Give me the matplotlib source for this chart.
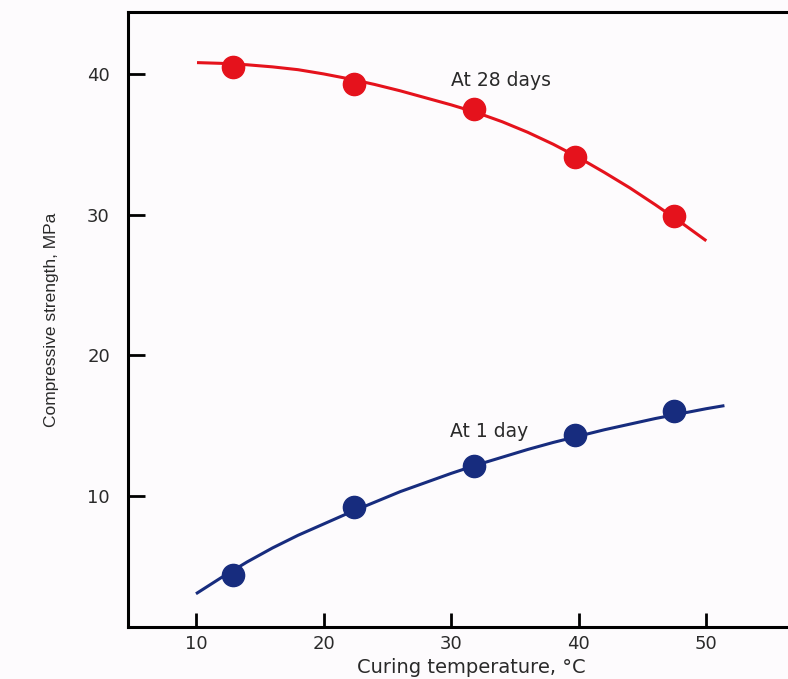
import matplotlib.pyplot as plt

# marker data
temp_pts = [12.9, 22.4, 31.8, 39.7, 47.5]
day28_pts = [40.5, 39.3, 37.5, 34.1, 29.9]
day1_pts = [4.4, 9.2, 12.1, 14.3, 16.0]

# trend curves
curve28_x = [10.2, 12, 14, 16, 18, 20, 22, 24, 26, 28, 30, 32, 34, 36, 38, 40, 42, 44, 46, 48, 49.9]
curve28_y = [40.8, 40.75, 40.65, 40.5, 40.3, 40.0, 39.65, 39.25, 38.8, 38.3, 37.8, 37.25,
             36.6, 35.85, 35.0, 34.05, 33.0, 31.9, 30.7, 29.45, 28.2]
curve1_x = [10.1, 12, 14, 16, 18, 20, 22, 24, 26, 28, 30, 32, 34, 36, 38, 40, 42, 44, 46, 48, 50, 51.3]
curve1_y = [3.1, 4.2, 5.3, 6.3, 7.2, 8.0, 8.8, 9.55, 10.3, 10.95, 11.6, 12.2, 12.75, 13.3,
            13.8, 14.25, 14.7, 15.1, 15.5, 15.85, 16.2, 16.4]

red = '#e5121c'
blue = '#172c7e'
txt = '#2a2a2a'

plt.rcParams['font.family'] = ['DejaVu Sans']

fig = plt.figure(figsize=(7.88, 6.79), dpi=100)
fig.patch.set_facecolor('#fdfbfd')
ax = fig.add_axes([0.1624, 0.0766, 0.8376, 0.9057])
ax.set_facecolor('#fdfbfd')

ax.plot(curve28_x, curve28_y, color=red, lw=2.2)
ax.plot(temp_pts, day28_pts, 'o', color=red, ms=16)
ax.plot(curve1_x, curve1_y, color=blue, lw=2.2)
ax.plot(temp_pts, day1_pts, 'o', color=blue, ms=16)

ax.text(33.9, 39.5, 'At 28 days', fontsize=13.5, color=txt, ha='center', va='center')
ax.text(33.0, 14.6, 'At 1 day', fontsize=13.5, color=txt, ha='center', va='center')

ax.set_xlim(4.67, 56.4)
ax.set_ylim(0.68, 44.4)
ax.set_xticks([10, 20, 30, 40, 50])
ax.set_yticks([10, 20, 30, 40])
ax.tick_params(direction='in', width=2, labelsize=13, labelcolor=txt)
ax.tick_params(axis='y', length=12, pad=13)
ax.tick_params(axis='x', length=10, pad=6)
for s in ['left', 'bottom', 'top']:
    ax.spines[s].set_linewidth(2.2)
ax.spines['right'].set_visible(False)

ax.set_xlabel('Curing temperature, °C', fontsize=14, color=txt)
ax.xaxis.set_label_coords(0.52, -0.051)
ax.set_ylabel('Compressive strength, MPa', fontsize=12.5, color=txt, labelpad=20,
              family=['Liberation Sans', 'DejaVu Sans'])

fig.savefig('out.png', dpi=100, facecolor=fig.get_facecolor())
